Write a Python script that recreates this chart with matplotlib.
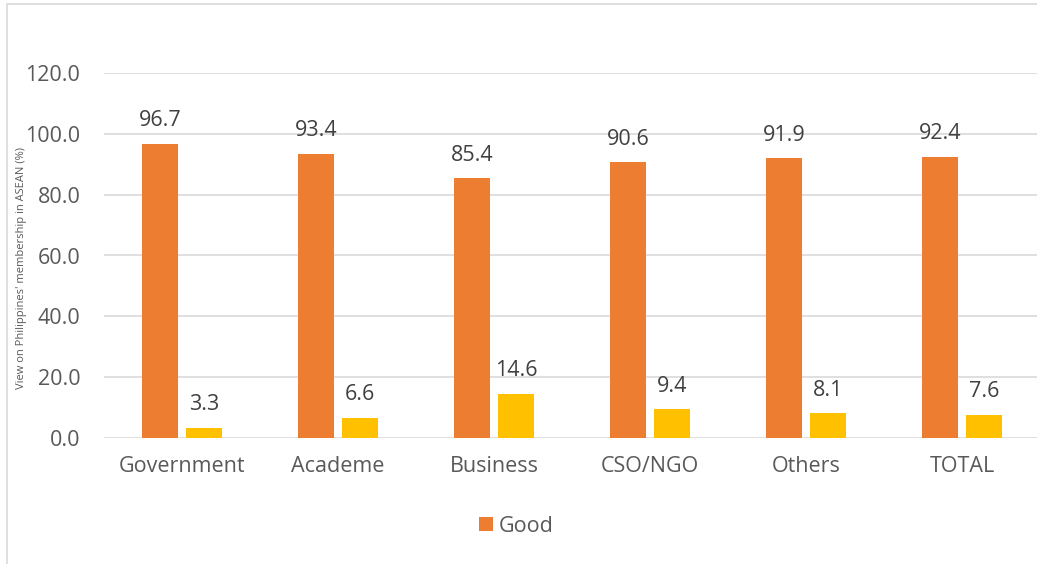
import matplotlib.pyplot as plt
from matplotlib.patches import Rectangle
import numpy as np

categories = ["Government", "Academe", "Business", "CSO/NGO", "Others", "TOTAL"]
good = [96.7, 93.4, 85.4, 90.6, 91.9, 92.4]
bad = [3.3, 6.6, 14.6, 9.4, 8.1, 7.6]
yticks = [0, 20, 40, 60, 80, 100, 120]

plt.rcParams['font.family'] = ['Open Sans', 'DejaVu Sans']

fig = plt.figure(figsize=(10.37, 5.64), dpi=100)
ax = fig.add_axes([104 / 1037, 126 / 564, 936 / 1037, 365 / 564])

# outer chart frame (cut off right and bottom in the reference)
fig.patches.append(Rectangle((7 / 1037, -0.1), 1.2, (560 / 564) + 0.1,
                             transform=fig.transFigure, fill=False,
                             edgecolor='#d9d9d9', linewidth=1.2))

x = np.arange(len(categories))
w = 0.225
off = 0.141
b1 = ax.bar(x - off, good, w, color='#ed7d31', label='Good', zorder=3)
b2 = ax.bar(x + off, bad, w, color='#ffc000', zorder=3)

for bars in (b1, b2):
    for r in bars:
        ax.annotate(f"{r.get_height():.1f}", (r.get_x() + r.get_width() / 2, r.get_height()),
                    xytext=(0, 9), textcoords='offset points', ha='center', va='bottom',
                    fontsize=15.5, color='#404040')

ax.set_xlim(-0.5, len(categories) - 0.5)
ax.set_ylim(0, 120)
ax.set_yticks(yticks)
ax.set_yticklabels([f"{v:.1f}" for v in yticks])
ax.set_xticks(x)
ax.set_xticklabels(categories)
ax.tick_params(axis='both', length=0, labelsize=15.5, labelcolor='#595959')
ax.tick_params(axis='x', pad=13)
ax.tick_params(axis='y', pad=17)
ax.grid(axis='y', color='#d9d9d9', linewidth=1.2, zorder=0)
for s in ax.spines.values():
    s.set_visible(False)

fig.text(22 / 1037, 1 - 268 / 564, "View on Philippines' membership in ASEAN (%)",
         rotation=90, ha='center', va='center', fontsize=8, color='#595959')

fig.legend(handles=[b1], labels=['Good'], loc='center', bbox_to_anchor=(516 / 1037, 1 - 526 / 564),
           frameon=False, fontsize=15.5, labelcolor='#595959', handlelength=0.65, handleheight=0.65,
           handletextpad=0.25)

fig.savefig('out.png', dpi=100)
